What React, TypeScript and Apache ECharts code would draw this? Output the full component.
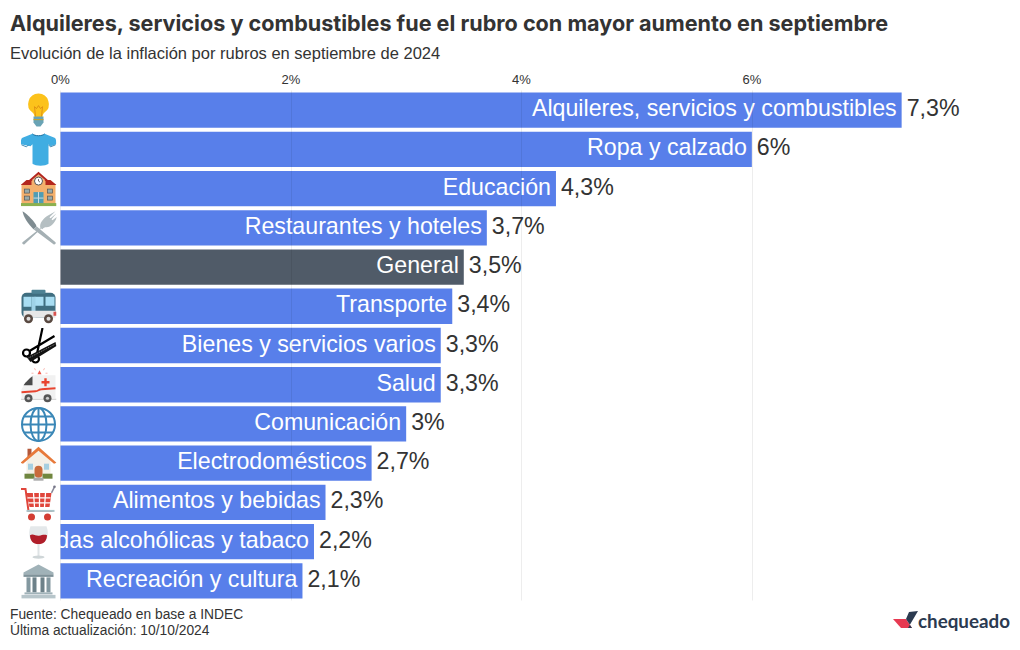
import React, { useEffect, useRef } from "react";
import * as echarts from "echarts";

const categories = ["Alquileres, servicios y combustibles", "Ropa y calzado", "Educación", "Restaurantes y hoteles", "General", "Transporte", "Bienes y servicios varios", "Salud", "Comunicación", "Electrodomésticos", "Alimentos y bebidas", "Bebidas alcohólicas y tabaco", "Recreación y cultura"];
const values = [7.3, 6, 4.3, 3.7, 3.5, 3.4, 3.3, 3.3, 3, 2.7, 2.3, 2.2, 2.1];
const highlighted = "General";
const tickValues = [0, 2, 4, 6];

const BLUE = "#587fea";
const DARK = "#505b68";
const INK = "#333333";
const LEFT = 60.5;
const TOP = 90.5;
const HEIGHT = 510;
const WIDTH = 921.8;
const FONT = "'Liberation Sans', Arial, sans-serif";

const svg = (body: string) =>
  "data:image/svg+xml;charset=utf-8," + encodeURIComponent(`<svg xmlns="http://www.w3.org/2000/svg" width="72" height="72" viewBox="0 0 36 36">${body}</svg>`);

const icons: (string | null)[] = [
  svg(`<path d="M18 1a10.5 10.5 0 0 0-6 19c1.5 1.2 2 3 2 5h8c0-2 .5-3.8 2-5A10.5 10.5 0 0 0 18 1z" fill="#fcc21b"/><path d="M15 24l-1-10 2 2 2-3 2 3 2-2-1 10" fill="none" stroke="#d9860f" stroke-width=".8"/><path d="M13 24h10v6l-3 4h-4l-3-4z" fill="#69a3b5"/><path d="M13 27h10" stroke="#c9a227"/>`),
  svg(`<path d="M12 2c2 2.5 10 2.5 12 0l10 4c1.4.7 2 3 1.6 6.5l-5.6 2-2-2V32c-3 2.6-13 2.6-16 0V12.500l-2 2L.4 12.500C0 9 .6 6.700 2 6z" fill="#40ade2"/><path d="M12 2c2 2.500 10 2.500 12 0" fill="none" stroke="#1d6f9e"/><path d="M1 13l5 2 2-2M35 13l-5 2-2-2" fill="none" stroke="#1d6f9e" stroke-width=".8"/>`),
  svg(`<rect x="1" y="13" width="34" height="20" fill="#f4b06d"/><path d="M0 14l6-5h24l6 5z" fill="#b3261e"/><path d="M11 10l7-7 7 7v5H11z" fill="#f4b06d"/><path d="M9 10l9-8 9 8" fill="none" stroke="#b3261e" stroke-width="2"/><circle cx="18" cy="10" r="4" fill="#fff" stroke="#555"/><path d="M18 8v2l1.500 1" stroke="#333" fill="none" stroke-width=".7"/><rect x="13" y="21" width="10" height="12" fill="#4f9db5"/><path d="M18 21v12M13 27h10" stroke="#ccdde2"/><rect x="4" y="18" width="5" height="4" fill="#9aa" stroke="#555" stroke-width=".7"/><rect x="27" y="18" width="5" height="4" fill="#9aa" stroke="#555" stroke-width=".7"/><rect x="4" y="25" width="5" height="4" fill="#9aa" stroke="#555" stroke-width=".7"/><rect x="27" y="25" width="5" height="4" fill="#9aa" stroke="#555" stroke-width=".7"/><rect x="0" y="32" width="36" height="3" fill="#8bb04f"/>`),
  svg(`<path d="M2 1c5 3 13 11 14 15l-3 3C8 14 3 7 2 1z" fill="#7f8c91"/><path d="M13 19l3-3 19 16c1 1-1 3-2 2z" fill="#a5b0b4"/><path d="M21 17L2 32c-1 1 1 3 2 2L19 20z" fill="#a5b0b4"/><path d="M20 18c-2-5 4-11 8-13l7-4-6 6 1 1 6-5-5 6 1 1 5-4c-2 5-6 11-11 11-2 0-3 .5-4 2z" fill="#b5bfc2"/>`),
  null,
  svg(`<rect x="1" y="4" width="34" height="25" rx="5" fill="#3f6e80"/><rect x="11" y="1" width="14" height="4" rx="1" fill="#4e8294"/><rect x="3" y="8" width="8" height="10" fill="#a8ddf2"/><rect x="14" y="8" width="9" height="9" fill="#a8ddf2"/><rect x="25" y="8" width="9" height="9" fill="#a8ddf2"/><rect x="11" y="8" width="4" height="21" fill="#9fd3e8"/><path d="M3 22h32v7H3z" fill="#e7e7e7"/><circle cx="8" cy="30" r="4.500" fill="#5a4a42"/><circle cx="8" cy="30" r="2" fill="#ddd"/><circle cx="28" cy="30" r="4.500" fill="#5a4a42"/><circle cx="28" cy="30" r="2" fill="#ddd"/><rect x="33" y="23" width="3" height="4" fill="#d9534f"/>`),
  svg(`<g fill="none" stroke="#000" stroke-width="2.200"><circle cx="6" cy="25" r="3.500"/><circle cx="15" cy="31" r="3.500"/><path d="M9 23L34 8M16 28L22 0"/></g><path d="M6 29l29-15 1 4-26 16z" fill="#111"/><path d="M8 30l27-14" stroke="#fff" stroke-width=".5" stroke-dasharray="1 1"/>`),
  svg(`<path d="M17 7l2-4 2 4z" fill="#f0564a"/><path d="M15 3l-1-2M23 3l1-2M13 6h-2M25 6h2" stroke="#f7a49c" stroke-width=".8"/><path d="M12 8h23v23H1v-9c2-3 6-10 11-14z" fill="#f1f1f1"/><path d="M12 9v9H3c2-3 6-7 9-9z" fill="#4a4a4a"/><path d="M21 15h8M25 11v8" stroke="#e8442f" stroke-width="2.400"/><path d="M1 25l14-1c3 0 3-2 6-2l14-1" stroke="#e8442f" stroke-width="1.800" fill="none"/><path d="M0 32h36" stroke="#c8c8c8" stroke-width="1"/><circle cx="8" cy="31" r="4" fill="#555"/><circle cx="8" cy="31" r="1.600" fill="#ccc"/><circle cx="27" cy="31" r="4" fill="#555"/><circle cx="27" cy="31" r="1.600" fill="#ccc"/>`),
  svg(`<g fill="none" stroke="#3a87b7" stroke-width="2"><circle cx="18" cy="18" r="16.500"/><ellipse cx="18" cy="18" rx="8" ry="16.500"/><path d="M18 1.500v33M1.500 18h33M4 10h28M4 26h28"/></g>`),
  svg(`<path d="M7 13V3h4v6z" fill="#b3583a"/><path d="M6 15L18 5l12 10v17H6z" fill="#f4f0e6"/><path d="M0 17L18 1l18 16-2.500 1L18 5 2.500 18z" fill="#e77a3b"/><rect x="14" y="20" width="8" height="12" rx="4" fill="#c96a3b"/><rect x="7.500" y="18" width="5" height="6" fill="#a5cfe0"/><rect x="23.500" y="18" width="5" height="6" fill="#a5cfe0"/><rect x="4" y="28" width="10" height="5" fill="#70863f"/><rect x="22" y="28" width="10" height="5" fill="#70863f"/><rect x="13" y="32" width="10" height="3" fill="#aaa"/>`),
  svg(`<path d="M0 4h5l3 22h24" fill="none" stroke="#e0463c" stroke-width="2"/><path d="M6 8h25l-2 14H9z" fill="#e0463c"/><path d="M7 13h23M8 18h22M13 8l1 14M19 8v14M25 8l-1 14" stroke="#fff" stroke-width="1.300"/><path d="M31 8l3-6" stroke="#889" stroke-width="1.500"/><circle cx="34" cy="1.800" r="1.300" fill="#778"/><rect x="6" y="25" width="28" height="2" fill="#a9c4c9"/><circle cx="11" cy="32" r="3.500" fill="#d33d33"/><circle cx="27" cy="32" r="3.500" fill="#d33d33"/>`),
  svg(`<path d="M10 2h16c3 8 1 17-8 18C9 19 7 10 10 2z" fill="#e4e8ea"/><path d="M9.500 11c3-2 6 1 9 .5s5-1.500 8-.5c0 5-3 9-8.500 9S9.500 16 9.500 11z" fill="#b01e2a"/><rect x="17" y="20" width="2" height="12" fill="#dfe4e6"/><ellipse cx="18" cy="33" rx="6" ry="1.600" fill="#cfd6d8"/>`),
  svg(`<path d="M18 1L3 9v2h30V9z" fill="#a0b2b8"/><rect x="3" y="11" width="30" height="2.500" fill="#7f9299"/><rect x="6" y="14" width="4" height="15" fill="#8398a0"/><rect x="12" y="14" width="4" height="15" fill="#6d8189"/><rect x="20" y="14" width="4" height="15" fill="#6d8189"/><rect x="26" y="14" width="4" height="15" fill="#8398a0"/><rect x="4" y="29" width="28" height="2" fill="#a0b2b8"/><rect x="1" y="31.500" width="34" height="3.500" fill="#b7c5ca"/>`),
];

const fmt = (v: number) => String(v).replace(".", ",") + "%";

export default function App() {
  const ref = useRef<HTMLDivElement>(null);
  useEffect(() => {
    const chart = echarts.init(ref.current!, undefined, { renderer: "svg" });
    const step = HEIGHT / categories.length;
    const iconSize = 36;
    const iconEls = icons.flatMap((image, i) =>
      image
        ? [{
            type: "image",
            z: 21,
            x: 39 - iconSize / 2 - 0.5,
            y: TOP + step * (i + 0.5) - iconSize / 2 + 0.5,
            style: { image, width: iconSize, height: iconSize },
          }]
        : []
    );
    chart.setOption({
      animation: false,
      backgroundColor: "#ffffff",
      grid: { left: LEFT, top: TOP, width: WIDTH, height: HEIGHT, containLabel: false },
      xAxis: {
        type: "value",
        position: "top",
        min: 0,
        max: 8,
        interval: 2,
        z: 5,
        axisLine: { show: false },
        axisTick: { show: false },
        splitLine: { show: true, showMaxLine: false, lineStyle: { color: "rgba(0,0,0,0.07)", width: 1 } },
        axisLabel: {
          margin: 5,
          showMaxLabel: false,
          color: INK,
          fontSize: 13,
          fontFamily: FONT,
          formatter: (v: number) => (tickValues.includes(v) ? `${v}%` : ""),
        },
      },
      yAxis: { type: "category", inverse: true, data: categories, show: false },
      series: [
        {
          type: "bar",
          barCategoryGap: "10%",
          barGap: "-100%",
          z: 2,
          data: values.map((v, i) => ({
            value: v,
            itemStyle: { color: categories[i] === highlighted ? DARK : BLUE },
          })),
          label: {
            show: true,
            position: "insideRight",
            distance: 5,
            offset: [0, -2],
            color: "#ffffff",
            fontSize: 23.2,
            fontFamily: FONT,
            formatter: (p: any) => p.name,
          },
        },
        {
          type: "bar",
          barCategoryGap: "10%",
          barGap: "-100%",
          z: 3,
          data: values,
          itemStyle: { color: "rgba(0,0,0,0)" },
          label: {
            show: true,
            position: "right",
            distance: 5,
            offset: [0, -2],
            color: INK,
            fontSize: 23.2,
            fontFamily: FONT,
            formatter: (p: any) => fmt(p.value),
          },
        },
      ],
      graphic: [
        { type: "rect", z: 20, shape: { x: 0, y: TOP, width: LEFT - 0.5, height: HEIGHT }, style: { fill: "#ffffff" } },
        ...iconEls,
        { type: "text", z: 30, x: 10, y: 12, style: { text: "Alquileres, servicios y combustibles fue el rubro con mayor aumento en septiembre", fill: INK, font: "700 21.6px Inter, sans-serif" } },
        { type: "text", z: 30, x: 10, y: 44, style: { text: "Evolución de la inflación por rubros en septiembre de 2024", fill: INK, font: "16.5px 'Liberation Sans', sans-serif" } },
        { type: "text", z: 30, x: 10, y: 607, style: { text: "Fuente: Chequeado en base a INDEC", fill: INK, font: "13.8px 'Liberation Sans', sans-serif" } },
        { type: "text", z: 30, x: 10, y: 623, style: { text: "Última actualización: 10/10/2024", fill: INK, font: "13.8px 'Liberation Sans', sans-serif" } },
        { type: "polygon", z: 30, shape: { points: [[893, 619], [906, 619], [912, 628], [901, 628]] }, style: { fill: "#e73a52" } },
        { type: "polygon", z: 30, shape: { points: [[906, 619], [909, 612], [918, 611], [908, 628], [902, 628], [912, 628]] }, style: { fill: "#2b3a50" } },
        { type: "text", z: 30, x: 918, y: 611, style: { text: "chequeado", fill: "#2b3a50", font: "700 18.8px Lato, sans-serif" } },
      ],
    });
    return () => chart.dispose();
  }, []);
  return <div ref={ref} style={{ position: "fixed", left: 0, top: 0, width: 1020, height: 650 }} />;
}
